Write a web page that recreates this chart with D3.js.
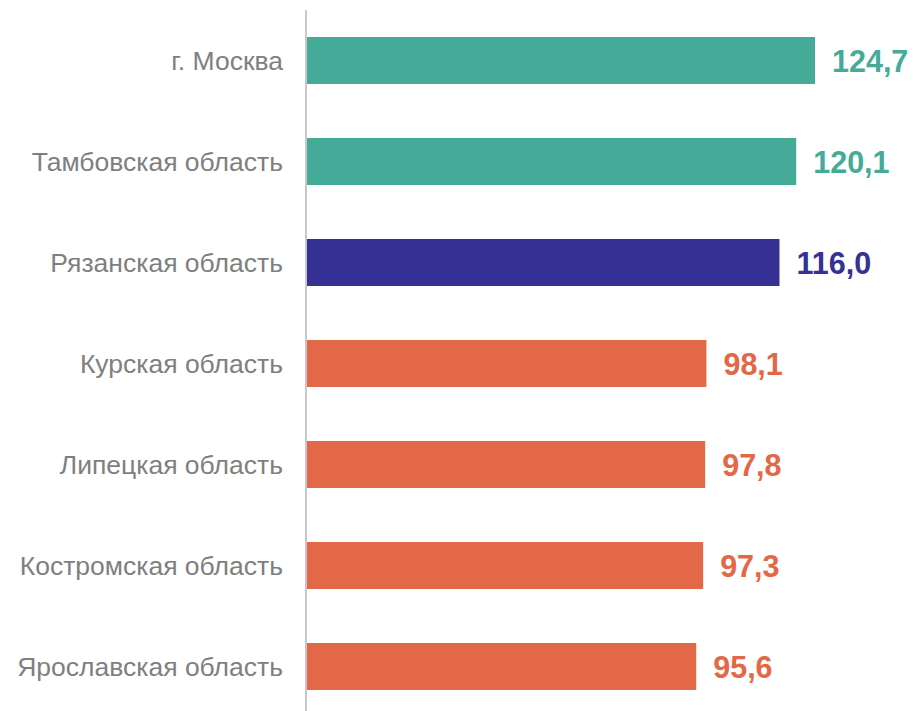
<!DOCTYPE html>
<html><head><meta charset="utf-8">
<script src="https://cdn.jsdelivr.net/npm/d3@7"></script>
<style>body{margin:0;background:#fff;} svg{display:block;}</style>
</head><body>
<svg id="c" width="915" height="711"></svg>
<script>
const categories = ["г. Москва","Тамбовская область","Рязанская область","Курская область","Липецкая область","Костромская область","Ярославская область"];
const values = [124.7, 120.1, 116.0, 98.1, 97.8, 97.3, 95.6];
const groups = ["high","high","self","low","low","low","low"];
const colorMap = {high:"#45AA98", self:"#353195", low:"#E36847"};

const svg = d3.select("#c");
const x = d3.scaleLinear().domain([0,125]).range([306, 306 + 125*4.0818]);
const y = d3.scaleBand().domain(categories).range([10, 717]).paddingInner(0.535).paddingOuter(0.2675);

svg.selectAll("rect.bar").data(categories).join("rect")
  .attr("x", x(0)).attr("y", d=>y(d))
  .attr("width", (d,i)=>x(values[i])-x(0)).attr("height", y.bandwidth())
  .attr("fill", (d,i)=>colorMap[groups[i]]);

svg.append("line").attr("x1",306).attr("x2",306).attr("y1",10).attr("y2",711)
  .attr("stroke","#c8c8c8").attr("stroke-width",2);

svg.selectAll("text.cat").data(categories).join("text")
  .attr("x", 283).attr("y", d=>y(d)+y.bandwidth()/2)
  .attr("text-anchor","end").attr("dominant-baseline","central")
  .attr("font-family","Liberation Sans, Arial, sans-serif").attr("font-size",26.5)
  .attr("fill","#7f7f7f").text(d=>d);

svg.selectAll("text.val").data(categories).join("text")
  .attr("x", (d,i)=>x(values[i])+17).attr("y", d=>y(d)+y.bandwidth()/2)
  .attr("dominant-baseline","central")
  .attr("font-family","Liberation Sans, Arial, sans-serif").attr("font-size",30.5).attr("font-weight","bold")
  .attr("fill",(d,i)=>colorMap[groups[i]])
  .text((d,i)=>values[i].toFixed(1).replace(".",","));
</script>
</body></html>
